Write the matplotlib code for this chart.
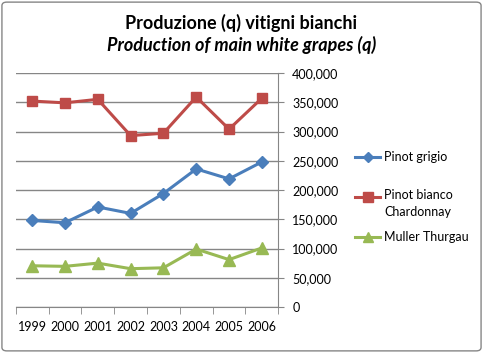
import numpy as np
import matplotlib
matplotlib.use("Agg")
import matplotlib.pyplot as plt
from matplotlib.lines import Line2D
from matplotlib.patches import FancyBboxPatch
from matplotlib.ticker import FuncFormatter, MultipleLocator

years = ["1999", "2000", "2001", "2002", "2003", "2004", "2005", "2006"]
pinot_grigio = [148000, 144000, 171000, 160000, 194000, 236000, 219000, 248000]
pinot_bianco = [352000, 349000, 355000, 293000, 297000, 359000, 304000, 357000]
muller = [70500, 69500, 75000, 65500, 67000, 99000, 81000, 101000]
labels = ["Pinot grigio", "Pinot bianco\nChardonnay", "Muller Thurgau"]

plt.rcParams["font.family"] = ["Lato", "DejaVu Sans"]

fig = plt.figure(figsize=(4.83, 3.53), dpi=100)
ax = fig.add_axes([0.0325, 0.1303, 0.5437, 0.6629])

x = np.arange(len(years))
styles = [
    (pinot_grigio, "#4A7EBB", "D", 6),
    (pinot_bianco, "#BE4B48", "s", 7.5),
    (muller, "#98B954", "^", 8),
]
for vals, col, mk, ms in styles:
    ax.plot(x, vals, color=col, lw=2.2, marker=mk, ms=ms, zorder=3)

ax.set_xlim(-0.5, len(years) - 0.5)
ax.set_ylim(0, 400000)
ax.yaxis.set_major_locator(MultipleLocator(50000))
ax.yaxis.set_major_formatter(FuncFormatter(lambda v, p: "{:,.0f}".format(v)))
ax.yaxis.tick_right()
ax.grid(axis="y", color="#868686", lw=1)
ax.set_axisbelow(True)

ax.set_xticks(x)
ax.set_xticklabels(years)
ax.set_xticks(np.arange(-0.5, len(years)), minor=True)
ax.tick_params(axis="x", which="major", length=0, pad=10, labelsize=9)
ax.tick_params(axis="x", which="minor", length=5, color="#868686", direction="out")
ax.tick_params(axis="y", length=4, color="#868686", pad=6, labelsize=9)

for s in ["top", "left"]:
    ax.spines[s].set_visible(False)
for s in ["bottom", "right"]:
    ax.spines[s].set_color("#868686")

# title
fig.text(0.5, 0.935, "Produzione (q) vitigni bianchi", ha="center", va="center",
         fontsize=13, fontweight="bold")
fig.text(0.5, 0.872, "Production of main white grapes (q)", ha="center", va="center",
         fontsize=13, fontweight="bold", style="italic")

# legend drawn by hand
leg_y = [157, 197, 237]
for (vals, col, mk, ms), lab, yy in zip(styles, labels, leg_y):
    yf = 1 - yy / 353
    fig.add_artist(Line2D([355 / 483, 367.5 / 483, 380 / 483], [yf, yf, yf],
                          color=col, lw=2.2, marker=mk, ms=ms * 0.9, markevery=[1]))
    if "\n" in lab:
        fig.text(384 / 483, 1 - (yy - 8) / 353, lab, ha="left", va="top",
                 fontsize=9, linespacing=1.45)
    else:
        fig.text(384 / 483, yf, lab, ha="left", va="center", fontsize=9)

# chart border
fig.add_artist(FancyBboxPatch((0.004, 0.006), 0.992, 0.988,
                              boxstyle="round,pad=0,rounding_size=0.01",
                              transform=fig.transFigure, fill=False,
                              edgecolor="#868686", lw=1))

fig.savefig("out.png", dpi=100)
